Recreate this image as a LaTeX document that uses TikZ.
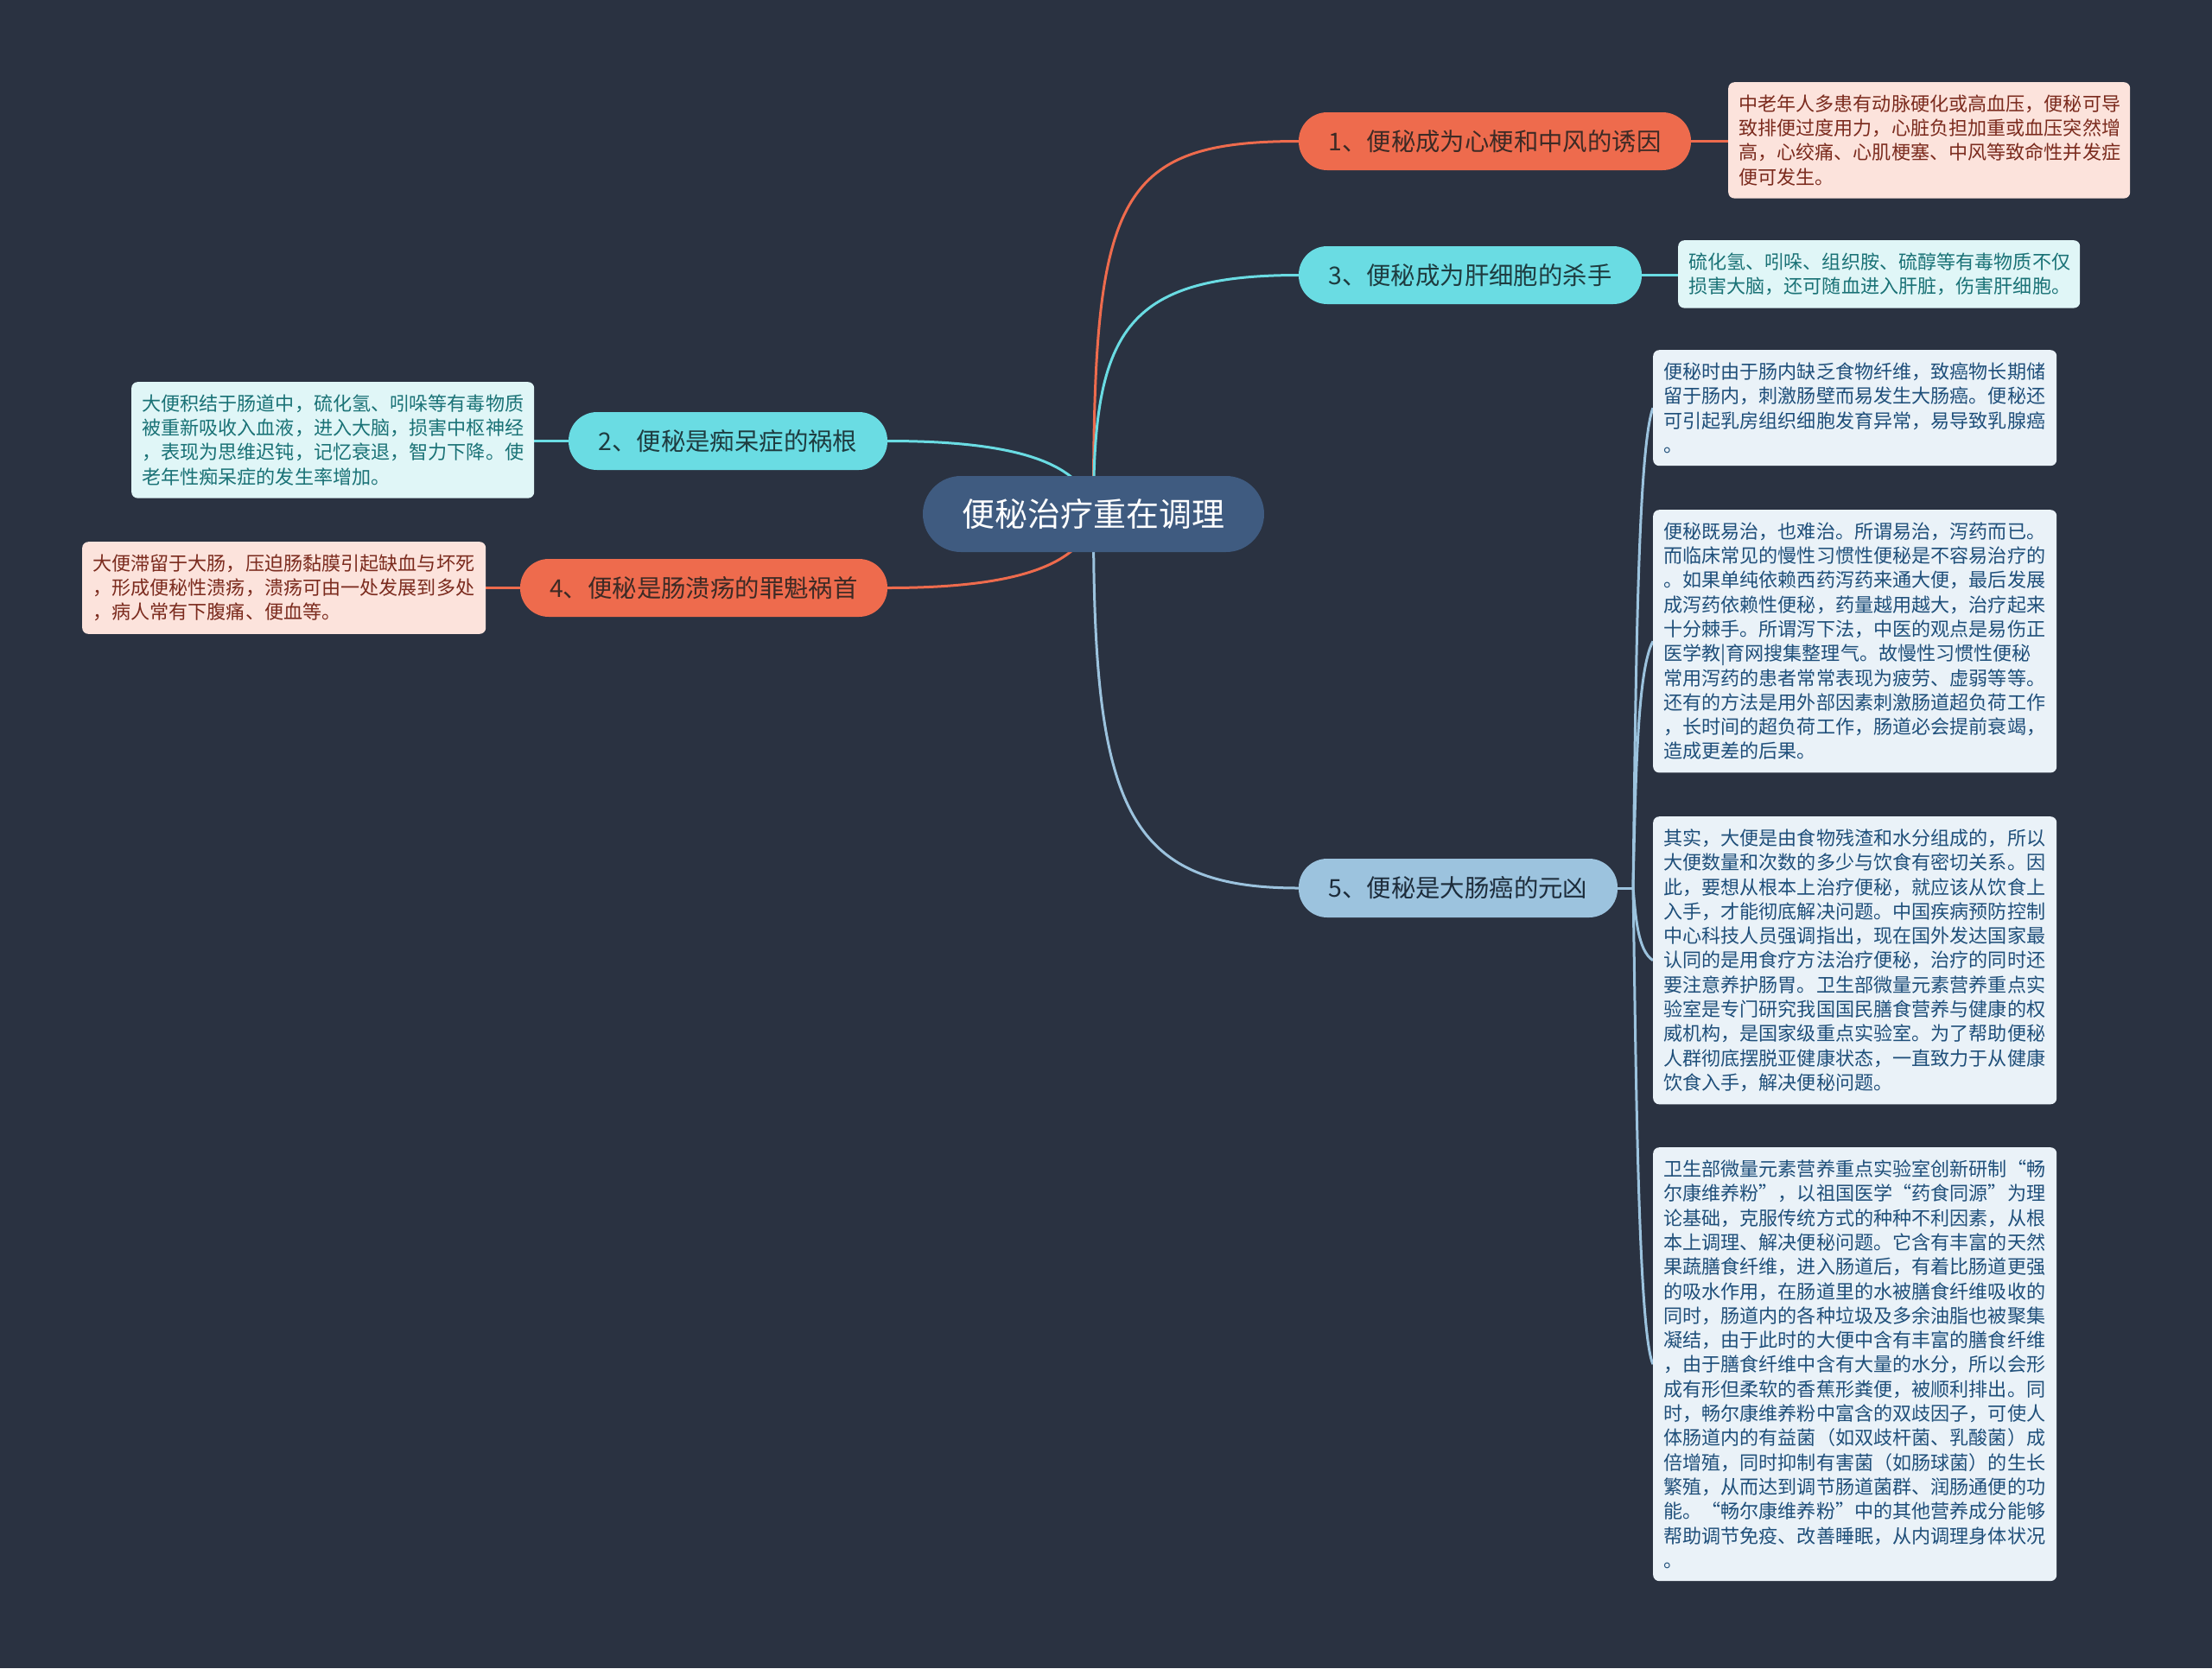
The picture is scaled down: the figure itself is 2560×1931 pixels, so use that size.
\documentclass[tikz,border=0pt]{standalone}
\usepackage{fontspec}
\newfontfamily\cjk{Noto Sans CJK SC}
\usetikzlibrary{backgrounds}
\definecolor{bgc}{HTML}{2A3241}
\definecolor{rootc}{HTML}{3F5B80}
\definecolor{orc}{HTML}{EE6B4D}
\definecolor{cyc}{HTML}{6ADCE3}
\definecolor{blc}{HTML}{9CC3DE}
\definecolor{ortx}{HTML}{3D2A25}
\definecolor{cytx}{HTML}{1E3C40}
\definecolor{bltx}{HTML}{1D2C3B}
\definecolor{orbox}{HTML}{FCE3DC}
\definecolor{orboxtx}{HTML}{7B2B1E}
\definecolor{cybox}{HTML}{E0F6F7}
\definecolor{cyboxtx}{HTML}{1A7276}
\definecolor{blbox}{HTML}{EAF2F8}
\definecolor{blboxtx}{HTML}{1F4F7A}
\begin{document}
\begin{tikzpicture}[x=1pt,y=-1pt,
  pill/.style={rounded corners=33pt, minimum height=67pt, inner sep=0pt,
    font=\cjk\fontsize{28.4}{30}\selectfont},
  desc/.style={rounded corners=7pt, anchor=north west, text width=443pt,
    inner xsep=12pt, inner ysep=14.5pt, align=left,
    font=\cjk\fontsize{22.1}{28.3}\selectfont},
  link/.style={line width=3pt}]
\useasboundingbox (0,0) rectangle (2560,1931);

% root and main topics
\node[rounded corners=44pt, minimum height=88pt, minimum width=395pt, inner sep=0pt,
  fill=rootc, text=white, font=\cjk\fontsize{38}{40}\selectfont] (root) at (1265.5,595) {便秘治疗重在调理};
\node[pill, fill=orc, text=ortx, minimum width=454pt] (n1) at (1730,163.5) {1、便秘成为心梗和中风的诱因};
\node[pill, fill=cyc, text=cytx, minimum width=397pt] (n3) at (1701.5,318.5) {3、便秘成为肝细胞的杀手};
\node[pill, fill=cyc, text=cytx, minimum width=369pt] (n2) at (842.5,510.5) {2、便秘是痴呆症的祸根};
\node[pill, fill=orc, text=ortx, minimum width=425pt] (n4) at (814.5,680.5) {4、便秘是肠溃疡的罪魁祸首};
\node[pill, fill=blc, text=bltx, minimum width=369pt, minimum height=68pt] (n5) at (1687.5,1028) {5、便秘是大肠癌的元凶};
\coordinate (j5) at (1890,1028);

% description boxes
\node[desc, fill=orbox, text=orboxtx, text width=441pt] (b1) at (2000,95) {中老年人多患有动脉硬化或高血压，便秘可导\\致排便过度用力，心脏负担加重或血压突然增\\高，心绞痛、心肌梗塞、中风等致命性并发症\\便可发生。};
\node[desc, fill=cybox, text=cyboxtx, text width=441pt] (b3) at (1942,278) {硫化氢、吲哚、组织胺、硫醇等有毒物质不仅\\损害大脑，还可随血进入肝脏，伤害肝细胞。};
\node[desc, fill=cybox, text=cyboxtx, text width=442pt] (b2) at (152,442) {大便积结于肠道中，硫化氢、吲哚等有毒物质\\被重新吸收入血液，进入大脑，损害中枢神经\\，表现为思维迟钝，记忆衰退，智力下降。使\\老年性痴呆症的发生率增加。};
\node[desc, fill=orbox, text=orboxtx] (b4) at (95,627) {大便滞留于大肠，压迫肠黏膜引起缺血与坏死\\，形成便秘性溃疡，溃疡可由一处发展到多处\\，病人常有下腹痛、便血等。};
\node[desc, fill=blbox, text=blboxtx] (b5a) at (1913,405) {便秘时由于肠内缺乏食物纤维，致癌物长期储\\留于肠内，刺激肠壁而易发生大肠癌。便秘还\\可引起乳房组织细胞发育异常，易导致乳腺癌\\。};
\node[desc, fill=blbox, text=blboxtx] (b5b) at (1913,590) {便秘既易治，也难治。所谓易治，泻药而已。\\而临床常见的慢性习惯性便秘是不容易治疗的\\。如果单纯依赖西药泻药来通大便，最后发展\\成泻药依赖性便秘，药量越用越大，治疗起来\\十分棘手。所谓泻下法，中医的观点是易伤正\\医学教|育网搜集整理气。故慢性习惯性便秘\\常用泻药的患者常常表现为疲劳、虚弱等等。\\还有的方法是用外部因素刺激肠道超负荷工作\\，长时间的超负荷工作，肠道必会提前衰竭，\\造成更差的后果。};
\node[desc, fill=blbox, text=blboxtx] (b5c) at (1913,945) {其实，大便是由食物残渣和水分组成的，所以\\大便数量和次数的多少与饮食有密切关系。因\\此，要想从根本上治疗便秘，就应该从饮食上\\入手，才能彻底解决问题。中国疾病预防控制\\中心科技人员强调指出，现在国外发达国家最\\认同的是用食疗方法治疗便秘，治疗的同时还\\要注意养护肠胃。卫生部微量元素营养重点实\\验室是专门研究我国国民膳食营养与健康的权\\威机构，是国家级重点实验室。为了帮助便秘\\人群彻底摆脱亚健康状态，一直致力于从健康\\饮食入手，解决便秘问题。};
\node[desc, fill=blbox, text=blboxtx] (b5d) at (1913,1328) {卫生部微量元素营养重点实验室创新研制“畅\\尔康维养粉”，以祖国医学“药食同源”为理\\论基础，克服传统方式的种种不利因素，从根\\本上调理、解决便秘问题。它含有丰富的天然\\果蔬膳食纤维，进入肠道后，有着比肠道更强\\的吸水作用，在肠道里的水被膳食纤维吸收的\\同时，肠道内的各种垃圾及多余油脂也被聚集\\凝结，由于此时的大便中含有丰富的膳食纤维\\，由于膳食纤维中含有大量的水分，所以会形\\成有形但柔软的香蕉形粪便，被顺利排出。同\\时，畅尔康维养粉中富含的双歧因子，可使人\\体肠道内的有益菌（如双歧杆菌、乳酸菌）成\\倍增殖，同时抑制有害菌（如肠球菌）的生长\\繁殖，从而达到调节肠道菌群、润肠通便的功\\能。“畅尔康维养粉”中的其他营养成分能够\\帮助调节免疫、改善睡眠，从内调理身体状况\\。};

\begin{pgfonlayer}{background}
\fill[bgc] (0,0) rectangle (2560,1931);
% root connectors
\draw[link, orc] (root.center) .. controls (1265,230) and (1290,163.5) .. (n1.west);
\draw[link, cyc] (root.center) .. controls (1265,385) and (1300,318.5) .. (n3.west);
\draw[link, blc] (root.center) .. controls (1265,930) and (1300,1028) .. (n5.west);
\draw[link, cyc] (root.center) .. controls (1255,530) and (1160,510.5) .. (n2.east);
\draw[link, orc] (root.center) .. controls (1255,660) and (1160,680.5) .. (n4.east);
% topic to description
\draw[link, orc] (n1.east) -- (n1.east -| b1.west);
\draw[link, cyc] (n3.east) -- (n3.east -| b3.west);
\draw[link, cyc] (n2.west) -- (n2.west -| b2.east);
\draw[link, orc] (n4.west) -- (n4.west -| b4.east);
\draw[link, blc] (n5.east) -- (j5);
\draw[link, blc] (j5) .. controls (1893,800) and (1895,520) .. (b5a.west);
\draw[link, blc] (j5) .. controls (1893,900) and (1895,775) .. (b5b.west);
\draw[link, blc] (j5) .. controls (1893,1060) and (1895,1100) .. (b5c.west);
\draw[link, blc] (j5) .. controls (1893,1200) and (1895,1540) .. (b5d.west);
\end{pgfonlayer}
\end{tikzpicture}
\end{document}
